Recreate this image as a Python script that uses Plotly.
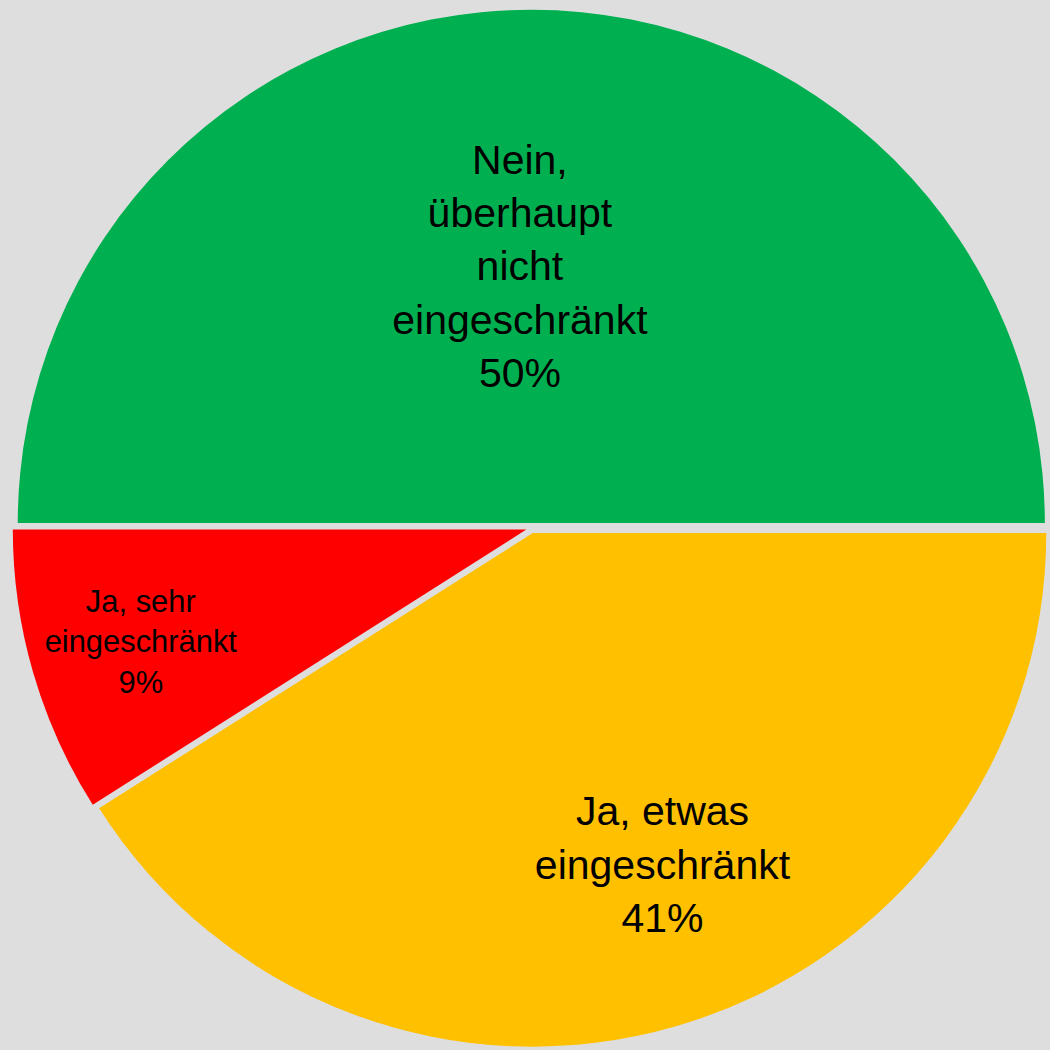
import plotly.graph_objects as go

NB = "\u00a0"

label_lines = [
    ["Nein,", "überhaupt", "nicht", "eingeschränkt"],
    ["Ja, etwas", "eingeschränkt"],
    ["Ja, sehr", "eingeschränkt"],
]
labels = [" ".join(l) for l in label_lines]
values = [50, 41, 9]
percent_text = ["50%", "41%", "9%"]
colors = ["#00B050", "#FFC000", "#FF0000"]
text_sizes = [41, 41, 33]

# text placement tweaks inside each slice (padding lines / spaces)
pad_top = [0, 3, 0]
pad_bottom = [0, 0, 0]
pad_left = [0, 10, 0]
pad_right = [2, 0, 0]

texts = []
for lines, pct, pt, pb, pl, pr in zip(label_lines, percent_text, pad_top, pad_bottom, pad_left, pad_right):
    body = [NB * pl + s + NB * pr for s in lines + [pct]]
    texts.append("<br>".join([NB] * pt + body + [NB] * pb))

fig = go.Figure(go.Pie(
    labels=labels,
    values=values,
    text=texts,
    textinfo="text",
    textposition="inside",
    insidetextorientation="horizontal",
    insidetextfont=dict(family="Liberation Sans, Arial, sans-serif", size=text_sizes, color="black"),
    marker=dict(colors=colors, line=dict(width=0)),
    sort=False,
    direction="clockwise",
    rotation=270,
    pull=[0.01, 0.01, 0.01],
    domain=dict(x=[0.012, 1.0], y=[0.0, 0.994]),
    showlegend=False,
    hoverinfo="none",
))

fig.update_layout(
    width=1050, height=1050,
    margin=dict(l=0, r=0, t=0, b=0),
    paper_bgcolor="#DEDEDE",
    plot_bgcolor="#DEDEDE",
)

fig.write_html(
    "out.html",
    config={"displayModeBar": False},
    post_script="document.body.style.margin='0px';document.body.style.overflow='hidden';document.body.style.background='#DEDEDE';",
)
